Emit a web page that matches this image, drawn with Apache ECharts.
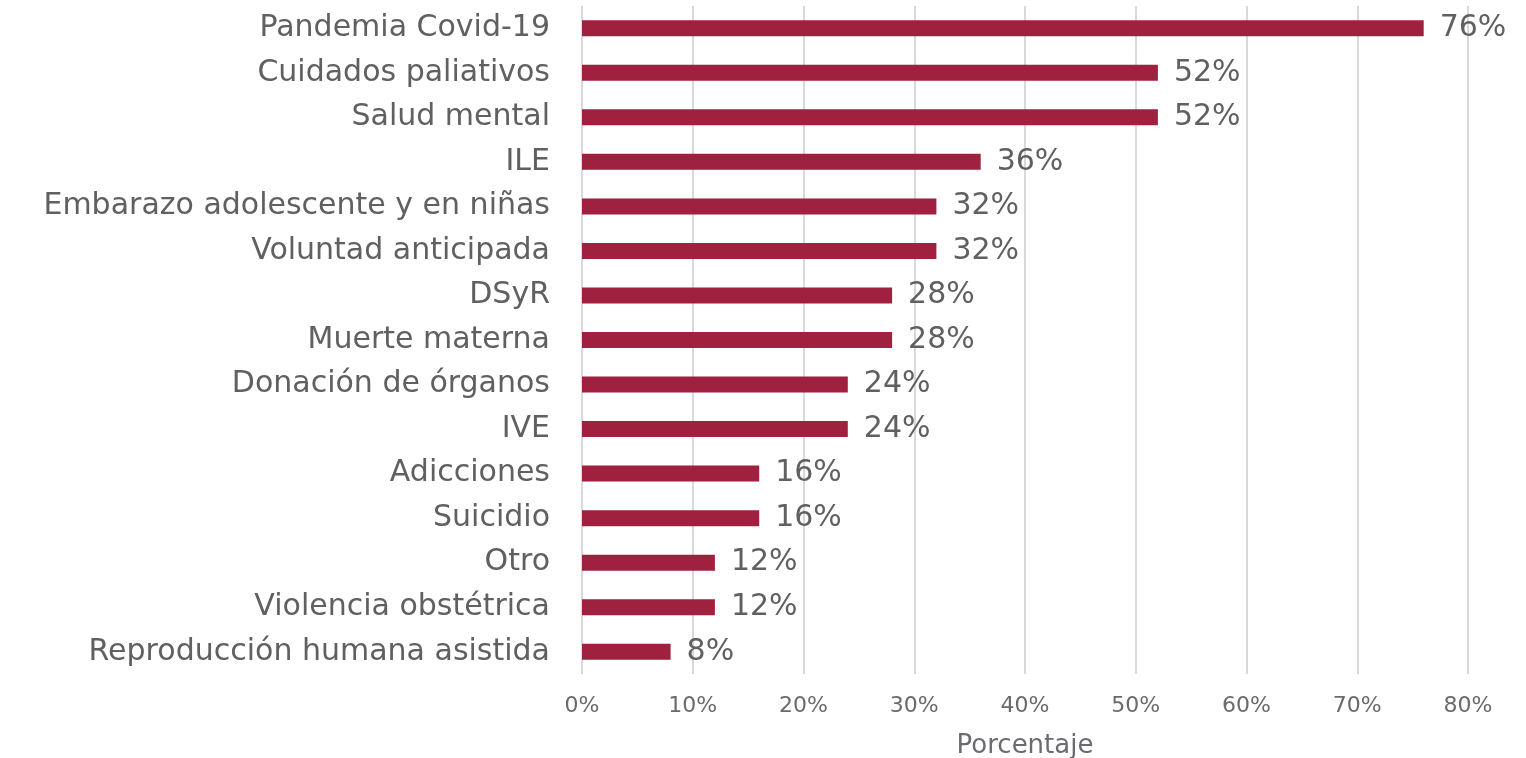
<!DOCTYPE html>
<html>
<head>
<meta charset="utf-8">
<script src="https://cdn.jsdelivr.net/npm/echarts@6/dist/echarts.min.js"></script>
<style>
html, body { margin: 0; padding: 0; background: #fff; }
#main { width: 1526px; height: 758px; }
</style>
</head>
<body>
<div id="main"></div>
<script>
// categories listed bottom -> top (category axis draws first item at bottom)
var categories = [
  'Reproducción humana asistida',
  'Violencia obstétrica',
  'Otro',
  'Suicidio',
  'Adicciones',
  'IVE',
  'Donación de órganos',
  'Muerte materna',
  'DSyR',
  'Voluntad anticipada',
  'Embarazo adolescente y en niñas',
  'ILE',
  'Salud mental',
  'Cuidados paliativos',
  'Pandemia Covid-19'
];
var values = [8, 12, 12, 16, 16, 24, 24, 28, 28, 32, 32, 36, 52, 52, 76];
var xTicks = [0, 10, 20, 30, 40, 50, 60, 70, 80];

var font = '"DejaVu Sans", sans-serif';
var textColor = '#606060';

var chart = echarts.init(document.getElementById('main'));
var option = {
  backgroundColor: '#fff',
  animation: false,
  grid: { left: 582, right: 58, top: 6, bottom: 84, containLabel: false, outerBoundsMode: 'none' },
  xAxis: {
    type: 'value',
    min: xTicks[0],
    max: xTicks[xTicks.length - 1],
    interval: 10,
    name: 'Porcentaje',
    nameLocation: 'middle',
    nameGap: 59,
    nameTextStyle: { fontFamily: font, fontSize: 26, color: '#6a6c70' },
    axisLine: { show: false },
    axisTick: { show: false },
    axisLabel: {
      formatter: '{value}%',
      fontFamily: font, fontSize: 22, color: '#6a6a6a', margin: 21
    },
    splitLine: { show: true, lineStyle: { color: '#d9d9d9', width: 2 } }
  },
  yAxis: {
    type: 'category',
    data: categories,
    axisLine: { show: false },
    axisTick: { show: false },
    axisLabel: { fontFamily: font, fontSize: 30, color: textColor, margin: 32 }
  },
  series: [{
    type: 'bar',
    data: values,
    barWidth: 16,
    itemStyle: { color: '#a0213f' },
    label: {
      show: true,
      position: 'right',
      distance: 16,
      formatter: '{c}%',
      fontFamily: font, fontSize: 30, color: textColor
    }
  }]
};
chart.setOption(option);
</script>
</body>
</html>
